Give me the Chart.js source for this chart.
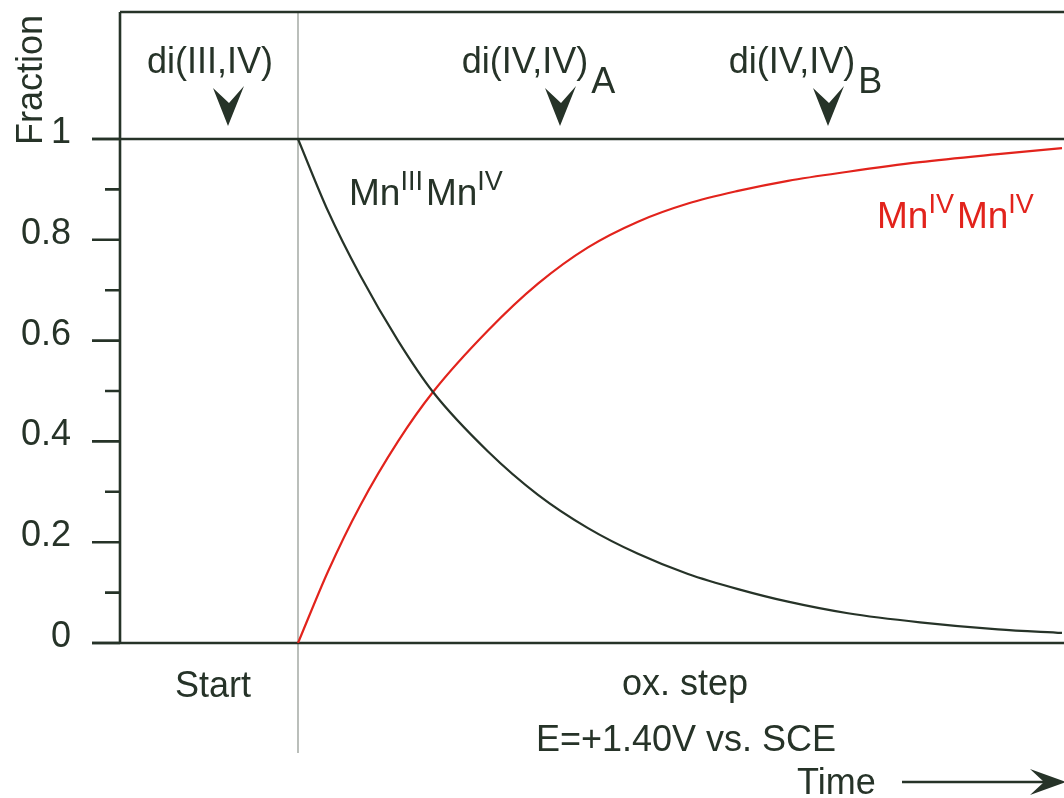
<!DOCTYPE html>
<html>
<head>
<meta charset="utf-8">
<script src="https://cdn.jsdelivr.net/npm/chart.js@4/dist/chart.umd.min.js"></script>
<style>
  html, body { margin: 0; padding: 0; background: #ffffff; }
  #wrap { width: 1064px; height: 798px; position: relative; }
</style>
</head>
<body>
<div id="wrap"><canvas id="c"></canvas></div>
<script>
// Time after the oxidative potential step (arbitrary units, step at t = 0)
const timePoints = [0, 0.3, 0.62, 1.0, 1.35, 1.9, 2.4, 2.9, 3.4, 3.9, 4.4, 4.9, 5.5, 6.22, 7.0, 7.64];
// Fraction of the mixed-valence Mn(III)Mn(IV) dimer
const mn3mn4 = [1.0, 0.857, 0.73, 0.60, 0.498, 0.38, 0.294, 0.228, 0.177, 0.137, 0.107, 0.082, 0.059, 0.041, 0.027, 0.02];
// Fraction of the fully oxidised Mn(IV)Mn(IV) dimer
const mn4mn4 = [0, 0.142, 0.272, 0.40, 0.498, 0.62, 0.713, 0.785, 0.836, 0.872, 0.897, 0.917, 0.935, 0.954, 0.97, 0.982];
// Y-axis ticks (labelled every 0.2, minor every 0.1)
const yTicks = [0, 0.1, 0.2, 0.3, 0.4, 0.5, 0.6, 0.7, 0.8, 0.9, 1.0];
// Sample marks shown above the plot (time at which each sample is taken)
const markerLabels = ['di(III,IV)', 'di(IV,IV)', 'di(IV,IV)'];
const markerSubs = ['', 'A', 'B'];
const markerTimes = [-0.70, 2.62, 5.30];

const INK = '#263328';
const RED = '#e2231c';
const FONT = '"Liberation Sans", Arial, Helvetica, sans-serif';
// horizontal shift of each marker caption relative to its arrow
const captionShift = [-18, -35, -36];

function toXY(xs, ys) { return xs.map((x, i) => ({ x: x, y: ys[i] })); }

function chevronDown(ctx, cx, top, bottom) {
  ctx.beginPath();
  ctx.moveTo(cx - 15, top + 2);
  ctx.lineTo(cx + 1, top + 17);
  ctx.lineTo(cx + 16, top);
  ctx.lineTo(cx, bottom);
  ctx.closePath();
  ctx.fill();
}

function richText(ctx, x, y, parts, size, supSize, raise, color) {
  ctx.fillStyle = color;
  ctx.textAlign = 'left';
  ctx.textBaseline = 'alphabetic';
  let cx = x;
  parts.forEach(p => {
    const sz = p.sup ? supSize : size;
    ctx.font = sz + 'px ' + FONT;
    ctx.fillText(p.t, cx, p.sup ? y - raise : y);
    cx += ctx.measureText(p.t).width + (p.gap || 0);
  });
}

const framePlugin = {
  id: 'frame',
  beforeDatasetsDraw(chart) {
    const ctx = chart.ctx;
    const a = chart.chartArea;
    const xs = chart.scales.x, ys = chart.scales.y;
    const y1 = ys.getPixelForValue(1);
    const y0 = ys.getPixelForValue(0);
    const xStep = xs.getPixelForValue(0);
    ctx.save();
    // potential step divider
    ctx.strokeStyle = '#8d948d';
    ctx.lineWidth = 1.2;
    ctx.beginPath();
    ctx.moveTo(xStep, a.top);
    ctx.lineTo(xStep, 753);
    ctx.stroke();
    // frame lines
    ctx.strokeStyle = INK;
    ctx.lineWidth = 2.6;
    ctx.beginPath();
    ctx.moveTo(a.left, a.top); ctx.lineTo(a.right, a.top);
    ctx.moveTo(a.left, a.top); ctx.lineTo(a.left, y0);
    ctx.moveTo(a.left - 28, y1); ctx.lineTo(a.right, y1);
    ctx.moveTo(a.left - 28, y0); ctx.lineTo(a.right, y0);
    ctx.stroke();
    // tick marks
    ctx.beginPath();
    yTicks.forEach(v => {
      const py = ys.getPixelForValue(v);
      const major = Math.round(v * 10) % 2 === 0;
      ctx.moveTo(a.left - (major ? 28 : 15), py);
      ctx.lineTo(a.left, py);
    });
    ctx.stroke();
    ctx.restore();
  },
  afterDraw(chart) {
    const ctx = chart.ctx;
    const xs = chart.scales.x;
    ctx.save();
    ctx.fillStyle = INK;
    // axis title
    ctx.save();
    ctx.translate(42, 80);
    ctx.rotate(-Math.PI / 2);
    ctx.font = '36px ' + FONT;
    ctx.textAlign = 'center';
    ctx.textBaseline = 'alphabetic';
    ctx.fillText('Fraction', 0, 0);
    ctx.restore();

    // sample markers
    ctx.font = '36px ' + FONT;
    ctx.textAlign = 'left';
    markerLabels.forEach((label, i) => {
      const ax = xs.getPixelForValue(markerTimes[i]);
      const w = ctx.measureText(label).width;
      const left = ax + captionShift[i] - w / 2;
      ctx.fillText(label, left, 73);
      if (markerSubs[i]) ctx.fillText(markerSubs[i], left + w + 3, 93);
      chevronDown(ctx, ax, 86, 126);
    });

    // curve labels
    richText(ctx, 349, 205, [{ t: 'Mn' }, { t: 'III', sup: true, gap: 3 }, { t: 'Mn' }, { t: 'IV', sup: true }], 37, 27, 15, INK);
    richText(ctx, 877, 228, [{ t: 'Mn' }, { t: 'IV', sup: true, gap: 3 }, { t: 'Mn' }, { t: 'IV', sup: true }], 37, 27, 15, RED);

    // lower annotations
    ctx.fillStyle = INK;
    ctx.font = '36px ' + FONT;
    ctx.textAlign = 'center';
    ctx.fillText('Start', 213, 697);
    ctx.fillText('ox. step', 685, 695);
    ctx.fillText('E=+1.40V vs. SCE', 686, 751);
    ctx.textAlign = 'left';
    ctx.fillText('Time', 797, 794);
    // time arrow
    ctx.strokeStyle = INK;
    ctx.lineWidth = 2.4;
    ctx.beginPath();
    ctx.moveTo(902, 782);
    ctx.lineTo(1045, 782);
    ctx.stroke();
    ctx.beginPath();
    ctx.moveTo(1030, 769);
    ctx.lineTo(1066, 782);
    ctx.lineTo(1030, 795);
    ctx.lineTo(1044, 782);
    ctx.closePath();
    ctx.fill();
    ctx.restore();
  }
};

new Chart(document.getElementById('c'), {
  type: 'line',
  data: {
    datasets: [
      {
        label: 'MnIII MnIV',
        data: toXY(timePoints, mn3mn4),
        borderColor: INK,
        borderWidth: 2.2,
        pointRadius: 0,
        cubicInterpolationMode: 'monotone',
        fill: false
      },
      {
        label: 'MnIV MnIV',
        data: toXY(timePoints, mn4mn4),
        borderColor: RED,
        borderWidth: 2.2,
        pointRadius: 0,
        cubicInterpolationMode: 'monotone',
        fill: false
      }
    ]
  },
  options: {
    responsive: true,
    maintainAspectRatio: false,
    animation: false,
    events: [],
    layout: { padding: { left: 0, right: 0, top: 12, bottom: 155 } },
    plugins: { legend: { display: false }, tooltip: { enabled: false } },
    scales: {
      x: { type: 'linear', min: -1.78, max: 7.66, display: false },
      y: {
        type: 'linear',
        min: 0,
        max: 1.252,
        afterBuildTicks(scale) { scale.ticks = yTicks.map(v => ({ value: v })); },
        afterFit(scale) {
          scale.width = 120;
          scale.paddingTop = 0;
          scale.paddingBottom = 0;
        },
        grid: { display: false, drawTicks: false },
        border: { display: false },
        ticks: {
          color: INK,
          font: { family: FONT, size: 36 },
          padding: 49,
          labelOffset: -6,
          autoSkip: false,
          callback(v) {
            const tenth = Math.round(v * 10);
            return tenth % 2 === 0 ? String(+(tenth / 10).toFixed(1)) : '';
          }
        }
      }
    }
  },
  plugins: [framePlugin]
});
</script>
</body>
</html>
